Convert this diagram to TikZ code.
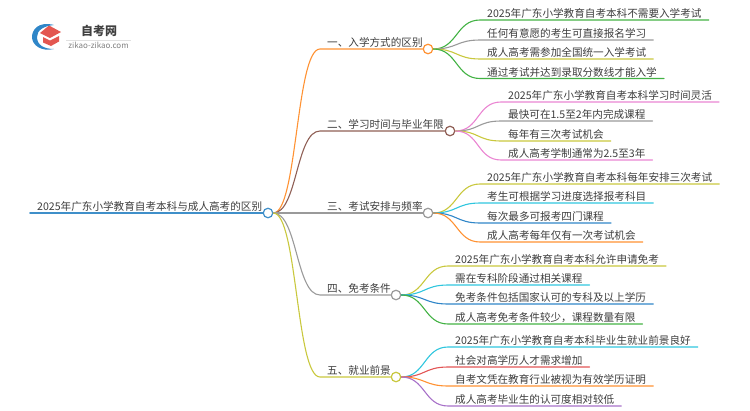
\documentclass[tikz,border=0pt]{standalone}
\usepackage{fontspec}
\setmainfont{Noto Sans CJK SC}
\usetikzlibrary{positioning}
\definecolor{cblue}{HTML}{3F8FC9}
\definecolor{corange}{HTML}{FF9233}
\definecolor{cbrown}{HTML}{8F5F55}
\definecolor{cgray}{HTML}{9A9A9A}
\definecolor{cyellow}{HTML}{C9C83E}
\definecolor{cgreen}{HTML}{43B244}
\definecolor{cpink}{HTML}{EA85D2}
\definecolor{ccyan}{HTML}{2FC6DE}
\definecolor{cdeep}{HTML}{2F86C8}
\definecolor{cred}{HTML}{E25555}
\definecolor{cpurple}{HTML}{A872C9}
\tikzset{
txt/.style={anchor=south west,text=black!76,font=\fontsize{10.6}{12}\selectfont,
  inner xsep=7pt,inner ysep=1.2pt,text height=9pt,text depth=1pt},
dot/.style={circle,draw=#1,fill=white,line width=1.2pt,minimum size=9.5pt,inner sep=0pt},
link/.style={draw=#1,line width=1.1pt,line cap=round},
curve/.style={out=0,in=180,distance=24pt},
}
\begin{document}
\begin{tikzpicture}[x=1pt,y=-1pt]
\useasboundingbox (0,0) rectangle (750,410);
% logo
\fill[cdeep] (54,25) .. controls (38,21) and (32,30) .. (32,37) .. controls (32,45) and (41,52) .. (54,49)
  .. controls (44,49) and (37,45) .. (37,37) .. controls (37,30) and (44,26) .. (54,25) -- cycle;
\fill[cred!95!orange] (49,25.5) -- (61,32) -- (50,38) -- (40,33) -- cycle;
\fill[cred!95!orange] (43,37) -- (50,40.5) -- (59,36) -- (59,41.5) -- (51,46) -- (43,42.5) -- cycle;
\node[font=\bfseries\fontsize{12}{13}\selectfont,text=black!75,inner sep=0pt] (logoA) at (99,31) {自考网};
\node[font=\fontsize{8}{9}\selectfont,text=black!50,inner sep=0pt] (logoB) at (98.5,45) {zikao-zikao.com};
\draw[black!12,line width=.5pt] (66,40) -- (131,40);
% centre
\node[dot=cblue] (R) at (268,213) {};
\node[dot=corange] (A) at (428,49) {};
\node[dot=cbrown] (B) at (450,131) {};
\node[dot=cgray] (C) at (428,213) {};
\node[dot=cgray] (D) at (396,295) {};
\node[dot=cyellow] (E) at (396,377) {};
\node[txt] (r0) at (30,213) {2025年广东小学教育自考本科与成人高考的区别};
\node[txt] (a0) at (320,49) {一、入学方式的区别};
\node[txt] (b0) at (320,131) {二、学习时间与毕业年限};
\node[txt] (c0) at (320,213) {三、考试安排与频率};
\node[txt] (d0) at (320,295) {四、免考条件};
\node[txt] (e0) at (320,377) {五、就业前景};
% leaves
\node[txt] (a1) at (480,20) {2025年广东小学教育自考本科不需要入学考试};
\node[txt] (a2) at (480,40) {任何有意愿的考生可直接报名学习};
\node[txt] (a3) at (480,59) {成人高考需参加全国统一入学考试};
\node[txt] (a4) at (480,78.5) {通过考试并达到录取分数线才能入学};
\node[txt] (b1) at (501,102) {2025年广东小学教育自考本科学习时间灵活};
\node[txt] (b2) at (501,121) {最快可在1.5至2年内完成课程};
\node[txt] (b3) at (501,141) {每年有三次考试机会};
\node[txt] (b4) at (501,160) {成人高考学制通常为2.5至3年};
\node[txt] (c1) at (480,184) {2025年广东小学教育自考本科每年安排三次考试};
\node[txt] (c2) at (480,203) {考生可根据学习进度选择报考科目};
\node[txt] (c3) at (480,223) {每次最多可报考四门课程};
\node[txt] (c4) at (480,242) {成人高考每年仅有一次考试机会};
\node[txt] (d1) at (448,266) {2025年广东小学教育自考本科允许申请免考};
\node[txt] (d2) at (448,285) {需在专科阶段通过相关课程};
\node[txt] (d3) at (448,304) {免考条件包括国家认可的专科及以上学历};
\node[txt] (d4) at (448,324) {成人高考免考条件较少，课程数量有限};
\node[txt] (e1) at (448,347) {2025年广东小学教育自考本科毕业生就业前景良好};
\node[txt] (e2) at (448,367) {社会对高学历人才需求增加};
\node[txt] (e3) at (448,386) {自考文凭在教育行业被视为有效学历证明};
\node[txt] (e4) at (448,406) {成人高考毕业生的认可度相对较低};
% connectors
\draw[link=cblue,line width=1.8pt] (r0.south west) -- (R);
\draw[link=corange] (R) to[curve] (a0.south west) -- (A);
\draw[link=cbrown] (R) to[curve] (b0.south west) -- (B);
\draw[link=cgray,line width=1.5pt] (R) -- (C);
\draw[link=cgray] (R) to[curve] (d0.south west) -- (D);
\draw[link=cyellow] (R) to[curve] (e0.south west) -- (E);
\draw[link=cgreen] (A) to[curve] (a1.south west) -- (a1.south east);
\draw[link=cgray] (A) to[curve] (a2.south west) -- (a2.south east);
\draw[link=cyellow] (A) to[curve] (a3.south west) -- (a3.south east);
\draw[link=cgreen] (A) to[curve] (a4.south west) -- (a4.south east);
\draw[link=cpink] (B) to[curve] (b1.south west) -- (b1.south east);
\draw[link=cgray] (B) to[curve] (b2.south west) -- (b2.south east);
\draw[link=cyellow] (B) to[curve] (b3.south west) -- (b3.south east);
\draw[link=cpink] (B) to[curve] (b4.south west) -- (b4.south east);
\draw[link=cyellow] (C) to[curve] (c1.south west) -- (c1.south east);
\draw[link=ccyan] (C) to[curve] (c2.south west) -- (c2.south east);
\draw[link=cdeep] (C) to[curve] (c3.south west) -- (c3.south east);
\draw[link=corange] (C) to[curve] (c4.south west) -- (c4.south east);
\draw[link=cyellow] (D) to[curve] (d1.south west) -- (d1.south east);
\draw[link=ccyan] (D) to[curve] (d2.south west) -- (d2.south east);
\draw[link=cdeep] (D) to[curve] (d3.south west) -- (d3.south east);
\draw[link=cgreen] (D) to[curve] (d4.south west) -- (d4.south east);
\draw[link=ccyan] (E) to[curve] (e1.south west) -- (e1.south east);
\draw[link=cred] (E) to[curve] (e2.south west) -- (e2.south east);
\draw[link=corange] (E) to[curve] (e3.south west) -- (e3.south east);
\draw[link=cpurple] (E) to[curve] (e4.south west) -- (e4.south east);
\end{tikzpicture}
\end{document}
